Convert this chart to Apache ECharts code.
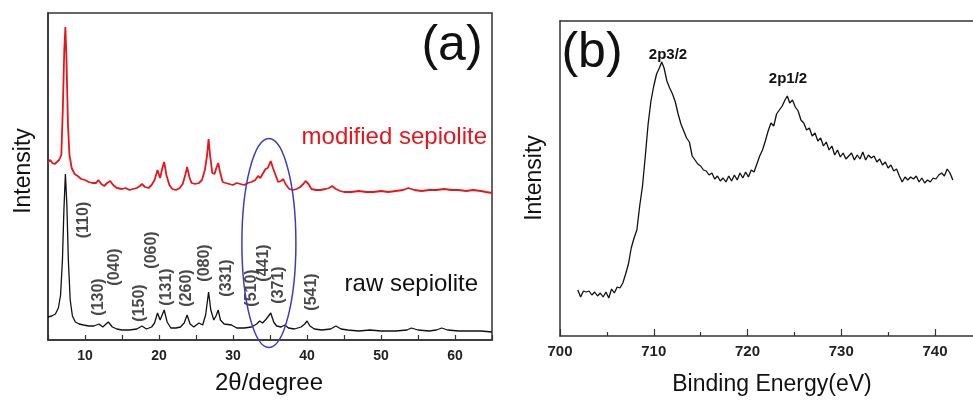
<!DOCTYPE html>
<html><head><meta charset="utf-8">
<script src="https://cdn.jsdelivr.net/npm/echarts@6/dist/echarts.min.js"></script>
<style>html,body{margin:0;padding:0;background:#fff;overflow:hidden}#c{width:973px;height:400px}</style>
</head><body><div id="c"></div>
<script>
// ---- Data (a): XRD, 2theta (deg) vs relative intensity (arb.)
const rawSepiolite = [
 [5.0,23],[5.5,24],[6.0,26],[6.4,32],[6.7,45],[6.95,80],[7.15,130],[7.35,166],[7.55,135],[7.75,80],[8.0,40],[8.3,24],
 [8.7,18],[9.2,16],[9.8,15],[10.5,14],[11.2,14],[11.9,16],[12.4,13],[13.15,18],[13.7,13],[14.3,11],[15.0,10],[16.0,10],
 [17.0,11],[17.7,14],[18.3,11],[19.0,13],[19.4,17],[19.8,27],[20.15,20],[20.7,30],[21.1,18],[21.6,12],[22.3,12],[22.9,13],
 [23.4,17],[23.8,25],[24.2,16],[24.7,13],[25.4,17],[25.9,15],[26.3,25],[26.7,48],[27.0,30],[27.4,20],[27.7,24],[28.0,30],
 [28.3,20],[28.8,16],[29.8,15],[30.5,12],[31.5,12],[32.5,13],[33.2,16],[33.6,19],[34.0,17],[34.5,21],[35.1,27],[35.5,18],
 [35.9,14],[36.5,13],[37.0,15],[37.5,12],[38.3,11],[39.2,13],[39.7,16],[40.0,19],[40.4,14],[41.0,11],[42.0,10],[43.2,11],
 [43.9,14],[44.6,11],[45.5,10],[47,9],[48.5,10],[50,9],[52,9],[53.5,10],[54.1,12],[55,10],[56.5,9],[57.5,10],[58.2,12],
 [59,10],[60.5,9],[62,9],[63.5,9],[65,8]
];
const modifiedSepiolite = [
 [5.0,178],[5.3,180],[5.6,177],[5.9,176],[6.2,178],[6.5,180],[6.8,185],[7.0,230],[7.2,290],[7.35,313],[7.5,280],[7.7,215],
 [7.9,185],[8.2,172],[8.6,166],[9.0,164],[9.5,161],[10.0,160],[10.5,158],[11.0,157],[11.5,157],[11.8,160],[12.2,156],
 [12.6,154],[13.0,157],[13.4,159],[13.8,155],[14.3,152],[15.0,151],[15.5,152],[16.0,150],[16.5,151],[17.0,152],[17.4,154],
 [17.7,156],[18.1,153],[18.6,152],[19.0,155],[19.4,160],[19.8,170],[20.15,162],[20.45,172],[20.7,178],[21.0,165],[21.4,155],
 [21.8,151],[22.3,150],[22.8,152],[23.2,156],[23.55,165],[23.8,173],[24.1,163],[24.4,157],[24.9,156],[25.4,157],[25.8,160],
 [26.2,170],[26.5,185],[26.7,201],[26.9,185],[27.2,167],[27.5,166],[27.75,172],[28.0,177],[28.25,168],[28.6,158],[29.0,157],
 [29.5,156],[30.0,155],[30.5,157],[31.0,156],[31.5,155],[32.0,157],[32.5,158],[33.0,160],[33.4,164],[33.7,162],[34.0,166],
 [34.4,171],[34.7,172],[35.1,179],[35.4,172],[35.7,166],[36.1,158],[36.5,159],[36.8,161],[37.1,156],[37.6,151],[38.1,150],
 [38.6,151],[39.1,153],[39.5,156],[39.8,159],[40.2,156],[40.6,151],[41.2,150],[41.8,150],[42.5,151],[43.0,152],[43.4,154],
 [43.9,151],[44.5,149],[45.0,148],[46,148],[47,149],[48,148],[49,148],[50,149],[51,148],[52,149],[53,150],[53.7,152],
 [54.5,150],[55.5,149],[56.5,150],[57.5,150],[58.5,151],[59.5,150],[60.5,150],[61.5,149],[62.5,150],[63.5,149],[64.2,148],[65,147]
];
const hklNames = ['(110)','(130)','(040)','(150)','(060)','(131)','(260)','(080)','(331)','(510)','(441)','(371)','(541)'];
const hklAnchors = [[9.77,120],[11.8,43],[14.05,73],[17.34,37],[19.0,90],[21.04,53],[23.74,52],[26.2,77],[29.15,62],[32.5,52],[34.1,77],[36.1,55],[40.6,48]];
const xrdTickLabels = [10,20,30,40,50,60];
// highlighted region (ellipse) in data units: centre and half-axes
const ellipseCentre = [34.85, 97];
const ellipseHalfAxes = [3.65, 104.5];

// ---- Data (b): XPS Fe 2p, binding energy (eV) vs intensity (arb.)
const xpsFe2p = [
 [701.9,46],[702.2,39],[702.5,45],[702.8,44],[703.1,45],[703.4,41],[703.7,44],[704.0,40],[704.3,43],[704.6,39],[704.9,44],
 [705.2,38],[705.5,47],[705.8,43],[706.1,49],[706.4,48],[706.7,53],[707.0,62],[707.3,72],[707.6,88],[707.9,98],[708.2,106],
 [708.5,130],[708.8,150],[709.1,180],[709.4,212],[709.7,235],[710.0,250],[710.3,262],[710.6,268],[710.85,274],[711.1,268],
 [711.4,255],[711.7,248],[712.0,242],[712.3,234],[712.6,222],[712.9,212],[713.2,205],[713.5,198],[713.8,194],[714.1,180],
 [714.4,176],[714.7,172],[715.0,170],[715.3,166],[715.6,165],[715.9,161],[716.2,163],[716.5,157],[716.8,160],[717.1,155],
 [717.4,158],[717.7,154],[718.0,160],[718.3,155],[718.6,161],[718.9,156],[719.2,163],[719.5,158],[719.8,164],[720.1,159],
 [720.4,166],[720.7,164],[721.0,172],[721.3,180],[721.6,186],[721.9,195],[722.2,205],[722.5,213],[722.8,210],[723.1,222],
 [723.4,226],[723.7,230],[724.0,236],[724.25,240],[724.5,233],[724.8,236],[725.1,229],[725.4,225],[725.7,216],[726.0,213],
 [726.3,206],[726.6,208],[726.9,200],[727.2,203],[727.5,195],[727.8,198],[728.1,190],[728.4,194],[728.7,186],[729.0,190],
 [729.3,181],[729.6,186],[729.9,179],[730.2,183],[730.5,177],[730.8,180],[731.1,183],[731.4,176],[731.7,181],[732.0,177],
 [732.3,184],[732.6,176],[732.9,181],[733.2,178],[733.5,180],[733.8,174],[734.1,177],[734.4,171],[734.7,174],[735.0,168],
 [735.3,171],[735.6,165],[735.9,167],[736.2,160],[736.5,154],[736.8,159],[737.1,156],[737.4,159],[737.7,157],[738.0,160],
 [738.3,154],[738.6,158],[738.9,153],[739.2,156],[739.5,154],[739.8,158],[740.1,157],[740.4,161],[740.7,163],[741.0,160],
 [741.3,167],[741.6,163],[741.9,156]
];
const xpsTickLabels = [700,710,720,730,740];

// ---- Chart
const FONT = '"Liberation Sans", Arial, sans-serif';
const AX = '#333';
const chart = echarts.init(document.getElementById('c'));
const noY = (gi, max) => ({gridIndex: gi, type: 'value', min: 0, max: max,
  axisLine: {show: true, lineStyle: {color: AX, width: 1.5}}, axisTick: {show: false},
  axisLabel: {show: false}, splitLine: {show: false}});
chart.setOption({
  animation: false,
  backgroundColor: '#fff',
  grid: [
    {left: 48, top: 13, width: 444, height: 327, show: true, borderColor: AX, borderWidth: 1.5,
     backgroundColor: 'transparent', outerBoundsMode: 'none', containLabel: false},
    {left: 560, top: 21, width: 468.75, height: 315, show: false, outerBoundsMode: 'none', containLabel: false}
  ],
  xAxis: [
    {gridIndex: 0, type: 'value', min: 5, max: 65, interval: 5,
     axisLine: {lineStyle: {color: AX, width: 1.5}},
     axisTick: {inside: true, length: 5, lineStyle: {color: AX, width: 1.2}},
     axisLabel: {formatter: v => xrdTickLabels.includes(v) ? String(v) : '', fontFamily: FONT, fontWeight: 'bold', fontSize: 14, color: '#222', margin: 9},
     splitLine: {show: false}},
    {gridIndex: 1, type: 'value', min: 700, max: 750, interval: 10,
     axisLine: {lineStyle: {color: AX, width: 1.5}},
     axisTick: {inside: true, length: 7, lineStyle: {color: AX, width: 1.2}},
     minorTick: {show: true, splitNumber: 2, length: 4, lineStyle: {color: AX, width: 1.2}},
     axisLabel: {formatter: v => xpsTickLabels.includes(v) ? String(v) : '', fontFamily: FONT, fontWeight: 'bold', fontSize: 15, color: '#222', margin: 8},
     splitLine: {show: false}, minorSplitLine: {show: false}},
    {gridIndex: 1, type: 'value', position: 'top', min: 700, max: 750,
     axisLine: {show: true, lineStyle: {color: AX, width: 1.5}}, axisTick: {show: false},
     axisLabel: {show: false}, splitLine: {show: false}}
  ],
  yAxis: [noY(0, 327), noY(1, 315)],
  series: [
    {type: 'line', xAxisIndex: 0, yAxisIndex: 0, data: modifiedSepiolite, showSymbol: false, symbol: 'none',
     lineStyle: {color: '#e8141b', width: 1.8}, z: 3},
    {type: 'line', xAxisIndex: 0, yAxisIndex: 0, data: rawSepiolite, showSymbol: false, symbol: 'none',
     lineStyle: {color: '#111', width: 1.3}, z: 3},
    {type: 'scatter', xAxisIndex: 0, yAxisIndex: 0, symbolSize: 1, itemStyle: {color: 'transparent'},
     data: hklNames.map((n, i) => ({name: n, value: hklAnchors[i]})),
     label: {show: true, position: 'inside', rotate: 90, formatter: '{b}',
             fontFamily: FONT, fontSize: 16, fontWeight: 'bold', color: '#1a1a1a'}},
    {type: 'line', xAxisIndex: 1, yAxisIndex: 1, data: xpsFe2p, showSymbol: false, symbol: 'none',
     lineStyle: {color: '#111', width: 1.3}}
  ]
});

const c = chart.convertToPixel({gridIndex: 0}, ellipseCentre);
const ex = chart.convertToPixel({gridIndex: 0}, [ellipseCentre[0] + ellipseHalfAxes[0], ellipseCentre[1]]);
const ey = chart.convertToPixel({gridIndex: 0}, [ellipseCentre[0], ellipseCentre[1] + ellipseHalfAxes[1]]);
const txt = (t, x, y, size, opt = {}) => ({type: 'text', x: x, y: y, rotation: opt.rot || 0, z: 100,
  style: {text: t, fill: opt.color || '#111', font: (opt.bold ? 'bold ' : '') + size + 'px ' + FONT,
          align: opt.align || 'center', verticalAlign: 'middle'}});
chart.setOption({graphic: [
  {type: 'ellipse', z: 50, shape: {cx: c[0], cy: c[1], rx: Math.abs(ex[0] - c[0]), ry: Math.abs(c[1] - ey[1])},
   style: {fill: 'none', stroke: '#3c3cc0', lineWidth: 1.5}},
  txt('(a)', 452, 46, 50),
  txt('modified sepiolite', 487, 137, 24, {color: '#e8141b', align: 'right'}),
  txt('raw sepiolite', 478, 284, 24, {align: 'right'}),
  txt('Intensity', 24, 171, 23, {rot: Math.PI / 2}),
  txt('2θ/degree', 269, 383, 24),
  txt('(b)', 592, 53, 50),
  txt('2p3/2', 668, 55, 15, {bold: true}),
  txt('2p1/2', 788, 79, 15, {bold: true}),
  txt('Intensity', 535, 178, 23, {rot: Math.PI / 2}),
  txt('Binding Energy(eV)', 772, 385, 23)
]});
</script>
</body></html>
